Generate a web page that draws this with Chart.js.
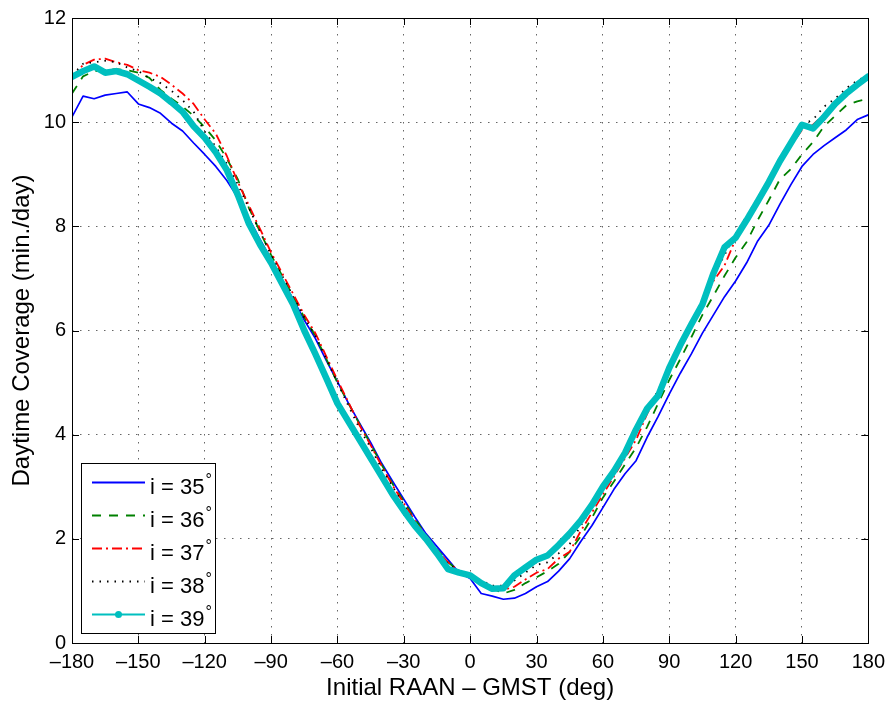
<!DOCTYPE html>
<html>
<head>
<meta charset="utf-8">
<script src="https://cdn.jsdelivr.net/npm/chart.js@4.4.0/dist/chart.umd.min.js"></script>
<style>
  html, body { margin: 0; padding: 0; background: #fff; }
  #wrap { width: 892px; height: 706px; }
</style>
</head>
<body>
<div id="wrap"><canvas id="chart" width="892" height="706"></canvas></div>
<script>
// Initial RAAN - GMST (deg), 5 deg steps
const raanDeg = [
  -180, -175, -170, -165, -160, -155, -150, -145, -140, -135, -130, -125, -120, -115, -110, -105,
  -100, -95, -90, -85, -80, -75, -70, -65, -60, -55, -50, -45, -40, -35, -30, -25, -20, -15, -10, -5,
  0, 5, 10, 15, 20, 25, 30, 35, 40, 45, 50, 55, 60, 65, 70, 75, 80, 85, 90, 95,
  100, 105, 110, 115, 120, 125, 130, 135, 140, 145, 150, 155, 160, 165, 170, 175, 180
]

// daytime coverage (min./day) per inclination
const cov35 = [
  10.10, 10.50, 10.45, 10.52, 10.55, 10.58, 10.35, 10.28, 10.17, 9.98, 9.83, 9.60, 9.38, 9.15, 8.88, 8.55,
  8.15, 7.75, 7.37, 6.97, 6.60, 6.20, 5.85, 5.42, 5.02, 4.60, 4.22, 3.85, 3.45, 3.10, 2.76, 2.42, 2.10, 1.85, 1.60, 1.35,
  1.24, 0.95, 0.90, 0.84, 0.86, 0.95, 1.08, 1.18, 1.38, 1.62, 1.95, 2.25, 2.60, 2.95, 3.25, 3.50, 3.95, 4.35, 4.78, 5.18,
  5.55, 5.95, 6.30, 6.65, 6.95, 7.30, 7.72, 8.02, 8.42, 8.80, 9.15, 9.38, 9.55, 9.70, 9.85, 10.05, 10.14
]
const cov36 = [
  10.55, 10.88, 10.98, 11.00, 11.02, 11.00, 10.95, 10.85, 10.62, 10.45, 10.30, 10.12, 9.90, 9.65, 9.30, 8.90,
  8.35, 7.90, 7.45, 7.05, 6.65, 6.25, 5.90, 5.45, 5.00, 4.60, 4.20, 3.82, 3.42, 3.05, 2.72, 2.38, 2.08, 1.80, 1.55, 1.38,
  1.28, 1.15, 1.05, 0.95, 1.02, 1.15, 1.26, 1.38, 1.52, 1.75, 2.05, 2.40, 2.79, 3.10, 3.43, 3.75, 4.15, 4.60, 5.05, 5.45,
  5.87, 6.30, 6.67, 7.05, 7.40, 7.70, 8.12, 8.50, 8.90, 9.10, 9.38, 9.62, 9.92, 10.12, 10.32, 10.40, 10.45
]
const cov37 = [
  10.85, 11.10, 11.20, 11.22, 11.15, 11.10, 11.00, 10.95, 10.87, 10.72, 10.55, 10.35, 10.05, 9.78, 9.35, 8.85,
  8.40, 7.95, 7.50, 7.10, 6.70, 6.30, 5.95, 5.50, 5.05, 4.62, 4.18, 3.80, 3.40, 3.02, 2.68, 2.35, 2.05, 1.78, 1.55, 1.38,
  1.28, 1.18, 1.08, 1.02, 1.08, 1.22, 1.35, 1.42, 1.62, 1.75, 2.15, 2.50, 2.85, 3.20, 3.55, 3.90, 4.40, 4.80, 5.25, 5.65,
  6.05, 6.50, 6.95, 7.25, 7.75, 8.10, 8.45, 8.85, 9.20, 9.55, 9.85, 9.95, 10.15, 10.35, 10.52, 10.70, 10.85
]
const cov38 = [
  10.90, 11.12, 11.15, 11.18, 11.15, 11.05, 10.98, 10.85, 10.75, 10.60, 10.42, 10.20, 9.82, 9.53, 9.20, 8.80,
  8.35, 7.90, 7.45, 7.05, 6.65, 6.25, 5.90, 5.45, 5.00, 4.55, 4.12, 3.75, 3.35, 3.00, 2.65, 2.32, 2.02, 1.76, 1.52, 1.38,
  1.30, 1.20, 1.10, 1.10, 1.20, 1.35, 1.50, 1.55, 1.72, 1.90, 2.25, 2.60, 2.95, 3.30, 3.62, 4.00, 4.48, 4.85, 5.32, 5.75,
  6.15, 6.60, 7.05, 7.45, 7.85, 8.20, 8.55, 8.90, 9.30, 9.65, 9.95, 10.05, 10.30, 10.45, 10.65, 10.80, 10.90
]
const cov39 = [
  10.87, 10.98, 11.07, 10.95, 10.98, 10.92, 10.80, 10.68, 10.55, 10.38, 10.20, 9.92, 9.70, 9.42, 9.08, 8.60,
  8.05, 7.65, 7.30, 6.90, 6.50, 6.00, 5.55, 5.08, 4.60, 4.25, 3.90, 3.55, 3.20, 2.85, 2.54, 2.25, 2.00, 1.72, 1.42, 1.35,
  1.30, 1.15, 1.04, 1.05, 1.30, 1.45, 1.60, 1.68, 1.88, 2.10, 2.35, 2.65, 3.00, 3.30, 3.65, 4.10, 4.50, 4.75, 5.28, 5.72,
  6.12, 6.50, 7.10, 7.60, 7.78, 8.12, 8.48, 8.85, 9.25, 9.60, 9.95, 9.88, 10.10, 10.35, 10.55, 10.72, 10.88
]

const seriesNames = ['i = 35', 'i = 36', 'i = 37', 'i = 38', 'i = 39']
const xTicks = [-180, -150, -120, -90, -60, -30, 0, 30, 60, 90, 120, 150, 180]
const yTicks = [0, 2, 4, 6, 8, 10, 12]

const FONT = '"Liberation Sans", Arial, Helvetica, sans-serif'

const styles = [
  {color: '#0000ff', width: 1.7, dash: []},
  {color: '#008000', width: 1.8, dash: [9, 8]},
  {color: '#ff0000', width: 1.8, dash: [10, 4, 2, 4]},
  {color: '#000000', width: 1.8, dash: [1.5, 6]},
  {color: '#00bfbf', width: 6.5, dash: []},
]

const toPoints = (ys) => ys.map((y, i) => ({x: raanDeg[i], y}))

const datasets = [cov35, cov36, cov37, cov38, cov39].map((ys, i) => ({
  label: seriesNames[i],
  data: toPoints(ys),
  borderColor: styles[i].color,
  backgroundColor: styles[i].color,
  borderWidth: styles[i].width,
  borderDash: styles[i].dash,
  borderJoinStyle: 'round',
  borderCapStyle: i === 4 ? 'round' : 'butt',
  pointRadius: 0,
  tension: 0,
  fill: false,
  order: 5 - i, // last series painted on top
}))

const fmtTick = (v) => (v < 0 ? '\u2013' + Math.abs(v) : String(v))

// box, inward ticks and the legend, drawn the matlab way
const framePlugin = {
  id: 'frame',
  afterDatasetsDraw(chart) {
    const {ctx, chartArea: a, scales} = chart
    ctx.save()
    ctx.strokeStyle = '#000'
    ctx.lineWidth = 1
    ctx.setLineDash([])
    ctx.beginPath()
    xTicks.forEach(v => {
      const px = Math.round(scales.x.getPixelForValue(v)) + 0.5
      ctx.moveTo(px, a.bottom); ctx.lineTo(px, a.bottom - 7)
      ctx.moveTo(px, a.top); ctx.lineTo(px, a.top + 7)
    })
    yTicks.forEach(v => {
      const py = Math.round(scales.y.getPixelForValue(v)) + 0.5
      ctx.moveTo(a.left, py); ctx.lineTo(a.left + 7, py)
      ctx.moveTo(a.right, py); ctx.lineTo(a.right - 7, py)
    })
    ctx.stroke()
    ctx.strokeRect(Math.round(a.left) + 0.5, Math.round(a.top) + 0.5,
      Math.round(a.right - a.left), Math.round(a.bottom - a.top))

    // legend
    const bx = 81.5, by = 463.5, bw = 134, bh = 170
    ctx.fillStyle = '#fff'
    ctx.fillRect(bx, by, bw, bh)
    ctx.strokeRect(bx, by, bw, bh)
    seriesNames.forEach((name, i) => {
      const y = 482.5 + i * 33
      const s = styles[i]
      ctx.strokeStyle = s.color
      ctx.lineWidth = i === 4 ? 2 : 1.8
      ctx.setLineDash(s.dash)
      ctx.beginPath()
      ctx.moveTo(92, y); ctx.lineTo(145, y)
      ctx.stroke()
      if (i === 4) {
        ctx.fillStyle = s.color
        ctx.beginPath()
        ctx.arc(118.5, y, 3.5, 0, Math.PI * 2)
        ctx.fill()
      }
      ctx.setLineDash([])
      ctx.fillStyle = '#000'
      ctx.textBaseline = 'alphabetic'
      ctx.textAlign = 'left'
      ctx.font = '22px ' + FONT
      ctx.fillText(name, 150, y + 11)
      const w = ctx.measureText(name).width
      ctx.font = '16px ' + FONT
      ctx.fillText('\u00b0', 150 + w + 1, y + 2)
    })
    ctx.restore()
  }
}

const ctx = document.getElementById('chart').getContext('2d')
new Chart(ctx, {
  type: 'line',
  data: {datasets},
  options: {
    responsive: false,
    animation: false,
    devicePixelRatio: 1,
    layout: {padding: {top: 14, right: 22, left: 0, bottom: 0}},
    plugins: {legend: {display: false}, tooltip: {enabled: false}},
    scales: {
      x: {
        type: 'linear',
        min: -180,
        max: 180,
        afterBuildTicks: (s) => { s.ticks = xTicks.map(v => ({value: v})) },
        afterFit: (s) => { s.height = 63 },
        ticks: {
          callback: fmtTick,
          autoSkip: false,
          maxRotation: 0,
          padding: 7,
          color: '#000',
          font: {family: FONT, size: 20}
        },
        grid: {color: '#666', lineWidth: 1, drawTicks: false},
        border: {display: false, dash: [1.5, 6.5]},
        title: {
          display: true,
          text: 'Initial RAAN \u2013 GMST (deg)',
          color: '#000',
          font: {family: FONT, size: 24},
          padding: {top: 0, bottom: 3}
        }
      },
      y: {
        type: 'linear',
        min: 0,
        max: 12,
        afterBuildTicks: (s) => { s.ticks = yTicks.map(v => ({value: v})) },
        afterFit: (s) => { s.width = 72 },
        ticks: {
          padding: 6,
          color: '#000',
          font: {family: FONT, size: 20}
        },
        grid: {color: '#666', lineWidth: 1, drawTicks: false},
        border: {display: false, dash: [1.5, 6.5]},
        title: {
          display: true,
          text: 'Daytime Coverage (min./day)',
          color: '#000',
          font: {family: FONT, size: 24},
          padding: {top: 8, bottom: 0}
        }
      }
    }
  },
  plugins: [framePlugin]
})
</script>
</body>
</html>
